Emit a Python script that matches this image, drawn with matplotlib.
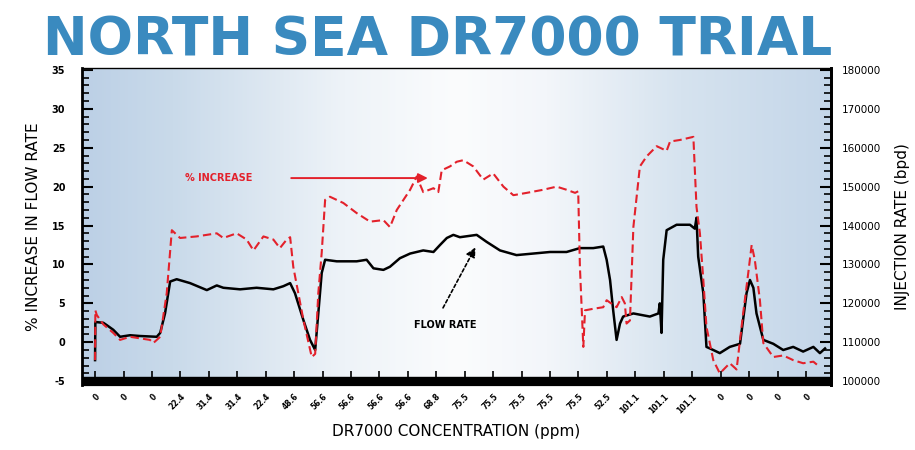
import numpy as np
import matplotlib
matplotlib.use('Agg')
import matplotlib.pyplot as plt
from matplotlib.colors import LinearSegmentedColormap

# ---- data (x in tick-index units, 0..25) ----
flow_x = [0.0, 0.01, 0.29, 0.41, 0.64, 0.88, 1.23, 1.58, 2.17, 2.29, 2.46, 2.64, 2.87,
          3.34, 3.93, 4.28, 4.51, 5.10, 5.68, 6.27, 6.62, 6.86, 7.03, 7.33, 7.56, 7.74,
          7.85, 7.97, 8.09, 8.50, 9.20, 9.55, 9.79, 10.14, 10.37, 10.72, 11.08, 11.54,
          11.90, 12.13, 12.37, 12.60, 12.83, 13.42, 13.77, 14.24, 14.82, 15.41, 16.00,
          16.58, 17.05, 17.52, 17.87, 17.99, 18.11, 18.22, 18.34, 18.46, 18.57, 18.93,
          19.51, 19.81, 19.86, 19.92, 19.98, 20.10, 20.45, 20.92, 21.09, 21.15, 21.21,
          21.39, 21.50, 21.74, 21.97, 22.32, 22.68, 22.91, 23.03, 23.15, 23.26, 23.50,
          23.85, 24.20, 24.55, 24.90, 25.26, 25.49, 25.67]
flow_y = [-2.3, 2.6, 2.5, 2.2, 1.6, 0.7, 0.9, 0.8, 0.7, 1.2, 3.7, 7.8, 8.1,
          7.6, 6.7, 7.3, 7.0, 6.8, 7.0, 6.8, 7.2, 7.6, 6.3, 2.8, 0.3, -1.0,
          3.7, 8.9, 10.6, 10.4, 10.4, 10.6, 9.5, 9.3, 9.7, 10.8, 11.4, 11.8,
          11.6, 12.5, 13.4, 13.8, 13.5, 13.8, 12.9, 11.8, 11.2, 11.4, 11.6,
          11.6, 12.1, 12.1, 12.3, 10.6, 8.0, 4.1, 0.3, 2.4, 3.3, 3.7,
          3.3, 3.7, 5.0, 1.2, 10.6, 14.4, 15.1, 15.1, 14.6, 16.0, 11.0,
          6.3, -0.6, -1.0, -1.4, -0.6, -0.2, 6.3, 8.0, 7.0, 3.7, 0.3,
          -0.2, -1.0, -0.6, -1.2, -0.6, -1.4, -0.8]

incr_x = [0.0, 0.01, 0.06, 0.29, 0.64, 0.88, 1.23, 1.93, 2.05, 2.29, 2.52, 2.70, 2.99,
          3.57, 4.28, 4.51, 4.98, 5.33, 5.57, 5.92, 6.27, 6.50, 6.74, 6.86, 6.97, 7.33,
          7.62, 7.74, 7.85, 7.97, 8.09, 8.26, 8.73, 9.20, 9.67, 10.14, 10.37, 10.61,
          11.08, 11.31, 11.54, 11.90, 12.07, 12.19, 12.48, 12.72, 12.95, 13.30, 13.65,
          14.00, 14.36, 14.71, 15.18, 15.76, 16.23, 16.58, 16.88, 16.99, 17.05, 17.17,
          17.23, 17.52, 17.87, 17.99, 18.34, 18.52, 18.63, 18.69, 18.81, 18.93, 19.16,
          19.40, 19.75, 20.10, 20.22, 20.57, 21.04, 21.15, 21.27, 21.39, 21.50, 21.74,
          21.97, 22.32, 22.56, 22.79, 22.97, 23.09, 23.20, 23.38, 23.50, 23.85, 24.20,
          24.55, 24.90, 25.26, 25.49]
incr_y = [-2.3, 4.1, 3.5, 2.3, 1.2, 0.3, 0.7, 0.3, -0.1, 0.7, 6.3, 14.4, 13.4,
          13.6, 14.0, 13.4, 14.0, 13.2, 11.8, 13.6, 13.2, 12.1, 13.2, 13.5, 9.7, 2.8,
          -1.9, -1.5, 6.3, 11.5, 18.3, 18.7, 17.9, 16.6, 15.5, 15.7, 14.8, 17.0,
          19.6, 21.3, 19.3, 19.8, 19.3, 22.1, 22.6, 23.2, 23.4, 22.6, 20.9,
          21.7, 20.0, 18.9, 19.2, 19.6, 20.0, 19.6, 19.2, 19.4, 9.7, -0.6,
          4.1, 4.3, 4.5, 5.4, 4.5, 5.8, 5.0, 2.4, 2.8, 14.8, 22.6,
          23.9, 25.2, 24.6, 25.8, 26.0, 26.4, 17.4, 14.0, 8.0, 2.0, -2.3,
          -4.0, -2.7, -3.5, 3.7, 8.9, 12.5, 10.6, 5.4, -0.1, -1.9, -1.7,
          -2.3, -2.7, -2.5, -3.2]

conc_labels = ['0', '0', '0', '22.4', '31.4', '31.4', '22.4', '48.6', '56.6', '56.6',
               '56.6', '56.6', '68.8', '75.5', '75.5', '75.5', '75.5', '75.5', '52.5',
               '101.1', '101.1', '101.1', '0', '0', '0', '0']
left_ticks = [-5, 0, 5, 10, 15, 20, 25, 30, 35]
right_ticks = [100000, 110000, 120000, 130000, 140000, 150000, 160000, 170000, 180000]

# ============================================================
fig = plt.figure(figsize=(9.15, 4.5), dpi=100)
ax = fig.add_axes([0.0896, 0.1444, 0.8186, 0.7045])
YLO, YHI = -5.5, 35.25
XLO, XHI = -0.46, 25.88

# background gradient: blue edges, near-white middle
cmap = LinearSegmentedColormap.from_list('bg', [
    (0.0, '#bcd0e6'), (0.12, '#c9daea'), (0.35, '#eef3f8'), (0.5, '#fbfcfd'),
    (0.62, '#f3f6fa'), (0.8, '#d6e3ef'), (1.0, '#c4d6e9')])
ax.imshow(np.linspace(0, 1, 256).reshape(1, -1), aspect='auto', cmap=cmap,
          extent=[XLO, XHI, YLO, YHI], zorder=0)
ax.axhspan(YLO, -4.45, color='black', zorder=1)

ax.plot(flow_x, flow_y, color='black', lw=1.8, zorder=3)
ax.plot(incr_x, incr_y, color='#e3212b', lw=1.5, dashes=(4, 2), zorder=4)

# annotations
ax.text(3.16, 21.1, '% INCREASE', color='#e3212b', fontsize=7, fontweight='bold',
        va='center', ha='left')
ax.annotate('', xy=(11.8, 21.1), xytext=(6.8, 21.1),
            arrowprops=dict(arrowstyle='-|>', color='#e3212b', lw=1.4,
                            mutation_scale=14))
ax.text(11.2, 2.2, 'FLOW RATE', color='black', fontsize=7, fontweight='bold',
        va='center', ha='left')
ax.annotate('', xy=(13.42, 12.5), xytext=(12.19, 4.1),
            arrowprops=dict(arrowstyle='-|>', color='black', lw=1.2, ls=(0, (2, 1.5)),
                            mutation_scale=14))

ax.set_xlim(XLO, XHI)
ax.set_ylim(YLO, YHI)
ax.set_xticks(range(len(conc_labels)))
ax.set_xticklabels(conc_labels, rotation=45, fontsize=5.5, fontweight='bold',
                   ha='right', rotation_mode='anchor')
ax.tick_params(axis='x', direction='in', length=10, width=1.2, pad=5)
ax.set_yticks(left_ticks)
ax.set_yticks(np.arange(-5, 36, 1), minor=True)
ax.set_yticklabels([str(v) for v in left_ticks], fontsize=7, fontweight='bold')
ax.tick_params(axis='y', which='major', direction='in', length=8, width=1.5, pad=12)
ax.tick_params(axis='y', which='minor', direction='in', length=5, width=1.2)
for s in ['left', 'right']:
    ax.spines[s].set_linewidth(2)
ax.spines['top'].set_linewidth(1)
ax.spines['top'].set_color('#555555')

ax.set_ylabel('% INCREASE IN FLOW RATE', fontsize=11, labelpad=8)
ax.set_xlabel('DR7000 CONCENTRATION (ppm)', fontsize=11, labelpad=6)

ax2 = ax.twinx()
ax2.set_ylim(100000 + (YLO + 5) * 2000, 100000 + (YHI + 5) * 2000)
ax2.set_yticks(right_ticks)
ax2.set_yticks(np.arange(100000, 180001, 2000), minor=True)
ax2.set_yticklabels([str(v) for v in right_ticks], fontsize=7.5)
ax2.tick_params(axis='y', which='major', direction='in', length=8, width=1.5, pad=8)
ax2.tick_params(axis='y', which='minor', direction='in', length=5, width=1.2)
ax2.spines['right'].set_linewidth(2)
ax2.set_ylabel('INJECTION RATE (bpd)', fontsize=11, labelpad=10)

fig.text(0.478, 0.912, 'NORTH SEA DR7000 TRIAL', color='#3a8abf', fontsize=38.5,
         fontweight='heavy', ha='center', va='center')

fig.savefig('out.png', dpi=100, facecolor='white')
